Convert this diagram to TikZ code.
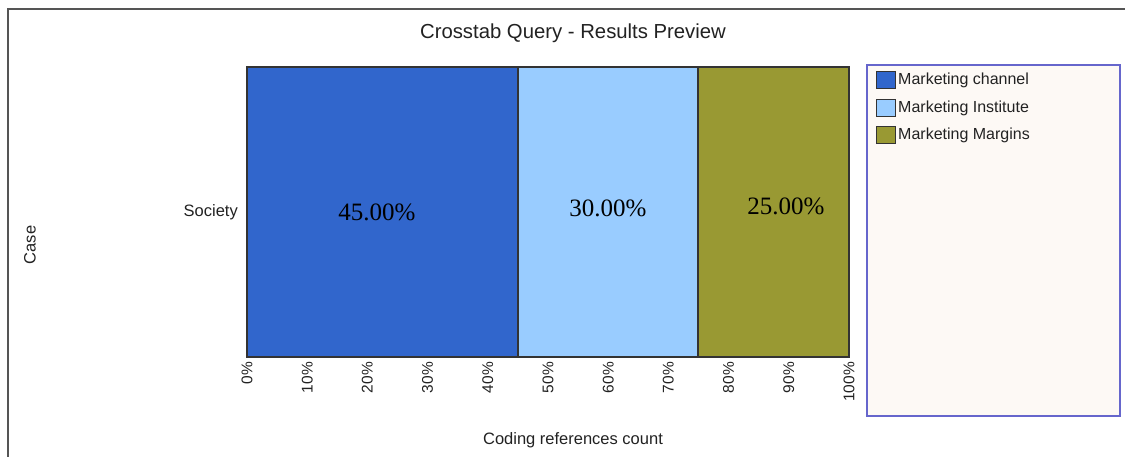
\documentclass[tikz,border=0pt]{standalone}
\usepackage{fontspec}
\setmainfont{Liberation Sans}
\newfontfamily\timesf{Liberation Serif}
\definecolor{cblue}{HTML}{3166CC}
\definecolor{clight}{HTML}{99CCFF}
\definecolor{colive}{HTML}{999933}
\definecolor{legbg}{HTML}{FDF9F5}
\definecolor{legborder}{HTML}{6666CC}
\definecolor{txt}{HTML}{222222}
\definecolor{framegray}{HTML}{555555}
\begin{document}
\begin{tikzpicture}[x=1pt,y=-1pt,
  lbl/.style={font=\fontsize{16.5}{18}\selectfont, text=txt, inner sep=0pt},
  ticklbl/.style={font=\fontsize{15.5}{17}\selectfont, text=txt, inner sep=0pt, rotate=90, anchor=east},
  pct/.style={font=\timesf\fontsize{25}{28}\selectfont, text=black, inner sep=0pt},
  seg/.style={draw=black!80, line width=1.2pt},
  legsq/.style={draw=black!80, line width=1pt, minimum width=19pt, minimum height=17pt, inner sep=0pt},
  legtxt/.style={font=\fontsize{16}{18}\selectfont, text=txt, inner sep=0pt, anchor=west}]
\useasboundingbox (0,0) rectangle (1125,457);
\fill[white] (0,0) rectangle (1125,457);
% outer frame
\draw[framegray, line width=2pt] (8,457) -- (8,9) -- (1125,9);
% title
\node[font=\fontsize{20.3}{23}\selectfont, text=txt, inner sep=0pt] (title) at (573,33) {Crosstab Query - Results Preview};
% bar segments
\fill[cblue] (247,67) rectangle (518,357);
\fill[clight] (518,67) rectangle (698,357);
\fill[colive] (698,67) rectangle (849,357);
\draw[seg] (247,67) rectangle (849,357);
\draw[seg] (518,67) -- (518,357);
\draw[seg] (698,67) -- (698,357);
% percentages
\node[pct] (p1) at (377,212) {45.00\%};
\node[pct] (p2) at (608,208) {30.00\%};
\node[pct] (p3) at (786,206) {25.00\%};
% category
\node[lbl, anchor=east] (soc) at (238,212) {Society};
\node[lbl, rotate=90] (case) at (30,245) {Case};
% ticks
\foreach \i/\t in {0/0,1/10,2/20,3/30,4/40,5/50,6/60,7/70,8/80,9/90,10/100}{
  \node[ticklbl] (t\i) at ({247+60.2*\i},362) {\t\%};
}
\node[lbl] (xlab) at (573,440) {Coding references count};
% legend
\draw[legborder, fill=legbg, line width=1.5pt] (867,65) rectangle (1120,416);
\node[legsq, fill=cblue] (s1) at (886,80.5) {};
\node[legsq, fill=clight] (s2) at (886,108.5) {};
\node[legsq, fill=colive] (s3) at (886,135.5) {};
\node[legtxt] (l1) at (898,80.5) {Marketing channel};
\node[legtxt] (l2) at (898,108.5) {Marketing Institute};
\node[legtxt] (l3) at (898,135.5) {Marketing Margins};
\end{tikzpicture}
\end{document}
